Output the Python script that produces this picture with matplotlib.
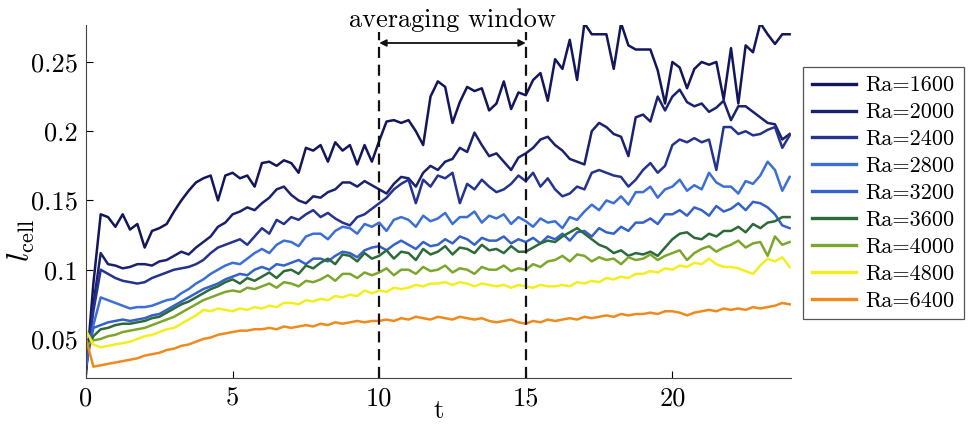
import numpy as np
import matplotlib
matplotlib.use("Agg")
import matplotlib.pyplot as plt

plt.rcParams['font.family'] = ['cmr10', 'DejaVu Serif']
plt.rcParams['mathtext.fontset'] = 'cm'
plt.rcParams['axes.formatter.use_mathtext'] = True

T_STEP = 0.25

labels = ["Ra=1600", "Ra=2000", "Ra=2400", "Ra=2800", "Ra=3200",
          "Ra=3600", "Ra=4000", "Ra=4800", "Ra=6400"]
colors = ["#12165a", "#1a216e", "#24338e", "#3b6fd6", "#3461cc",
          "#2c6a3a", "#7da62c", "#f3ee1e", "#ef8a1c"]

ra1600 = [0.025, 0.090, 0.140, 0.138, 0.131, 0.140, 0.129, 0.133,
          0.116, 0.128, 0.130, 0.133, 0.142, 0.150, 0.157, 0.163,
          0.166, 0.168, 0.150, 0.168, 0.170, 0.166, 0.168, 0.160,
          0.177, 0.178, 0.175, 0.179, 0.177, 0.170, 0.188, 0.186,
          0.190, 0.178, 0.192, 0.186, 0.190, 0.176, 0.190, 0.178,
          0.193, 0.207, 0.208, 0.206, 0.208, 0.200, 0.190, 0.225,
          0.236, 0.232, 0.206, 0.221, 0.232, 0.229, 0.231, 0.215,
          0.220, 0.236, 0.216, 0.228, 0.226, 0.237, 0.242, 0.222,
          0.252, 0.245, 0.266, 0.237, 0.278, 0.270, 0.270, 0.270,
          0.245, 0.278, 0.262, 0.259, 0.259, 0.259, 0.244, 0.220,
          0.250, 0.246, 0.231, 0.245, 0.250, 0.248, 0.250, 0.223,
          0.260, 0.220, 0.262, 0.257, 0.278, 0.270, 0.263, 0.270,
          0.270]
ra2000 = [0.028, 0.075, 0.112, 0.104, 0.103, 0.101, 0.102, 0.104,
          0.104, 0.103, 0.106, 0.107, 0.110, 0.113, 0.111, 0.116,
          0.120, 0.124, 0.131, 0.134, 0.140, 0.142, 0.145, 0.143,
          0.148, 0.152, 0.158, 0.160, 0.154, 0.150, 0.148, 0.153,
          0.152, 0.156, 0.158, 0.163, 0.163, 0.160, 0.164, 0.161,
          0.158, 0.155, 0.162, 0.167, 0.166, 0.160, 0.170, 0.175,
          0.172, 0.178, 0.180, 0.188, 0.185, 0.199, 0.190, 0.182,
          0.184, 0.178, 0.172, 0.181, 0.184, 0.188, 0.194, 0.196,
          0.190, 0.186, 0.180, 0.178, 0.176, 0.200, 0.206, 0.203,
          0.198, 0.196, 0.182, 0.210, 0.212, 0.207, 0.225, 0.215,
          0.225, 0.230, 0.221, 0.218, 0.220, 0.214, 0.217, 0.222,
          0.208, 0.218, 0.218, 0.214, 0.210, 0.206, 0.205, 0.194,
          0.198]
ra2400 = [0.030, 0.070, 0.100, 0.097, 0.094, 0.092, 0.091, 0.090,
          0.091, 0.094, 0.096, 0.098, 0.100, 0.101, 0.102, 0.104,
          0.107, 0.112, 0.116, 0.118, 0.120, 0.122, 0.118, 0.124,
          0.130, 0.126, 0.136, 0.133, 0.138, 0.136, 0.140, 0.143,
          0.138, 0.141, 0.137, 0.134, 0.132, 0.138, 0.140, 0.144,
          0.148, 0.152, 0.158, 0.162, 0.165, 0.148, 0.165, 0.160,
          0.168, 0.166, 0.170, 0.148, 0.162, 0.158, 0.165, 0.160,
          0.156, 0.158, 0.162, 0.168, 0.164, 0.170, 0.160, 0.166,
          0.158, 0.153, 0.155, 0.160, 0.158, 0.170, 0.172, 0.170,
          0.168, 0.167, 0.160, 0.165, 0.172, 0.177, 0.170, 0.175,
          0.190, 0.194, 0.192, 0.195, 0.192, 0.194, 0.172, 0.203,
          0.203, 0.198, 0.200, 0.197, 0.198, 0.201, 0.203, 0.188,
          0.197]
ra2800 = [0.030, 0.060, 0.080, 0.078, 0.076, 0.074, 0.072, 0.073,
          0.073, 0.074, 0.076, 0.078, 0.079, 0.083, 0.086, 0.090,
          0.093, 0.097, 0.100, 0.103, 0.105, 0.104, 0.108, 0.112,
          0.115, 0.112, 0.118, 0.121, 0.120, 0.117, 0.124, 0.126,
          0.126, 0.122, 0.128, 0.131, 0.130, 0.126, 0.133, 0.131,
          0.134, 0.128, 0.136, 0.138, 0.136, 0.131, 0.139, 0.135,
          0.137, 0.141, 0.133, 0.138, 0.138, 0.142, 0.134, 0.139,
          0.137, 0.140, 0.133, 0.138, 0.135, 0.131, 0.137, 0.134,
          0.135, 0.130, 0.138, 0.136, 0.142, 0.147, 0.143, 0.150,
          0.148, 0.153, 0.147, 0.156, 0.156, 0.160, 0.152, 0.158,
          0.160, 0.165, 0.157, 0.161, 0.158, 0.170, 0.163, 0.160,
          0.160, 0.155, 0.164, 0.162, 0.168, 0.178, 0.172, 0.157,
          0.167]
ra3200 = [0.035, 0.058, 0.060, 0.062, 0.063, 0.064, 0.063, 0.064,
          0.065, 0.067, 0.068, 0.071, 0.074, 0.077, 0.080, 0.083,
          0.086, 0.088, 0.090, 0.093, 0.095, 0.097, 0.096, 0.100,
          0.102, 0.100, 0.104, 0.103, 0.105, 0.107, 0.104, 0.108,
          0.108, 0.106, 0.110, 0.113, 0.112, 0.109, 0.114, 0.116,
          0.117, 0.114, 0.118, 0.121, 0.118, 0.115, 0.120, 0.117,
          0.118, 0.122, 0.119, 0.124, 0.122, 0.118, 0.123, 0.121,
          0.121, 0.124, 0.119, 0.122, 0.120, 0.123, 0.119, 0.124,
          0.122, 0.126, 0.121, 0.127, 0.128, 0.124, 0.130, 0.127,
          0.126, 0.131, 0.128, 0.134, 0.134, 0.137, 0.133, 0.140,
          0.140, 0.143, 0.139, 0.145, 0.143, 0.139, 0.146, 0.142,
          0.144, 0.148, 0.143, 0.149, 0.148, 0.145, 0.140, 0.132,
          0.130]
ra3600 = [0.040, 0.052, 0.057, 0.058, 0.060, 0.061, 0.061, 0.062,
          0.063, 0.065, 0.066, 0.069, 0.072, 0.075, 0.077, 0.080,
          0.083, 0.086, 0.088, 0.091, 0.093, 0.090, 0.094, 0.092,
          0.095, 0.098, 0.094, 0.099, 0.100, 0.097, 0.103, 0.101,
          0.105, 0.108, 0.104, 0.111, 0.110, 0.106, 0.112, 0.108,
          0.110, 0.114, 0.108, 0.113, 0.112, 0.107, 0.115, 0.111,
          0.113, 0.117, 0.111, 0.116, 0.115, 0.112, 0.118, 0.114,
          0.115, 0.112, 0.117, 0.113, 0.113, 0.116, 0.119, 0.121,
          0.120, 0.124, 0.127, 0.130, 0.126, 0.122, 0.118, 0.116,
          0.112, 0.114, 0.110, 0.112, 0.111, 0.113, 0.110, 0.116,
          0.122, 0.126, 0.127, 0.123, 0.122, 0.126, 0.124, 0.128,
          0.128, 0.131, 0.127, 0.133, 0.130, 0.134, 0.135, 0.138,
          0.138]
ra4000 = [0.045, 0.049, 0.050, 0.052, 0.053, 0.055, 0.056, 0.057,
          0.058, 0.060, 0.062, 0.064, 0.066, 0.069, 0.072, 0.075,
          0.078, 0.080, 0.082, 0.084, 0.085, 0.084, 0.087, 0.086,
          0.088, 0.090, 0.087, 0.091, 0.090, 0.088, 0.092, 0.091,
          0.093, 0.096, 0.092, 0.097, 0.097, 0.094, 0.098, 0.096,
          0.098, 0.101, 0.096, 0.100, 0.100, 0.097, 0.102, 0.099,
          0.100, 0.103, 0.098, 0.101, 0.100, 0.097, 0.102, 0.100,
          0.100, 0.103, 0.099, 0.101, 0.100, 0.104, 0.102, 0.106,
          0.107, 0.110, 0.106, 0.111, 0.110, 0.106, 0.109, 0.107,
          0.108, 0.104, 0.109, 0.107, 0.108, 0.111, 0.107, 0.110,
          0.112, 0.114, 0.107, 0.112, 0.115, 0.117, 0.113, 0.116,
          0.118, 0.121, 0.116, 0.119, 0.120, 0.110, 0.124, 0.118,
          0.120]
ra4800 = [0.056, 0.046, 0.044, 0.045, 0.046, 0.047, 0.048, 0.050,
          0.052, 0.053, 0.055, 0.057, 0.058, 0.061, 0.064, 0.067,
          0.071, 0.070, 0.072, 0.071, 0.070, 0.072, 0.071, 0.073,
          0.072, 0.074, 0.073, 0.076, 0.076, 0.075, 0.078, 0.077,
          0.079, 0.078, 0.081, 0.080, 0.082, 0.081, 0.085, 0.083,
          0.085, 0.084, 0.087, 0.086, 0.087, 0.089, 0.088, 0.090,
          0.090, 0.091, 0.089, 0.091, 0.090, 0.088, 0.090, 0.089,
          0.088, 0.089, 0.087, 0.089, 0.088, 0.087, 0.089, 0.088,
          0.088, 0.089, 0.088, 0.091, 0.090, 0.092, 0.091, 0.094,
          0.093, 0.095, 0.094, 0.097, 0.097, 0.099, 0.098, 0.101,
          0.100, 0.103, 0.102, 0.105, 0.104, 0.108, 0.104, 0.102,
          0.102, 0.101, 0.099, 0.097, 0.103, 0.108, 0.106, 0.109,
          0.102]
ra6400 = [0.050, 0.030, 0.031, 0.032, 0.033, 0.034, 0.035, 0.036,
          0.038, 0.039, 0.040, 0.042, 0.043, 0.045, 0.046, 0.048,
          0.050, 0.051, 0.053, 0.054, 0.055, 0.056, 0.056, 0.057,
          0.057, 0.058, 0.057, 0.059, 0.058, 0.059, 0.060, 0.059,
          0.061, 0.060, 0.062, 0.061, 0.062, 0.063, 0.062, 0.063,
          0.063, 0.064, 0.063, 0.065, 0.064, 0.066, 0.065, 0.064,
          0.066, 0.065, 0.064, 0.066, 0.065, 0.064, 0.065, 0.063,
          0.062, 0.063, 0.064, 0.062, 0.061, 0.063, 0.062, 0.064,
          0.063, 0.064, 0.065, 0.064, 0.066, 0.065, 0.066, 0.067,
          0.066, 0.068, 0.067, 0.068, 0.068, 0.069, 0.068, 0.070,
          0.070, 0.069, 0.067, 0.069, 0.070, 0.071, 0.070, 0.072,
          0.071, 0.072, 0.071, 0.073, 0.072, 0.073, 0.074, 0.076,
          0.075]

series = [ra1600, ra2000, ra2400, ra2800, ra3200, ra3600, ra4000, ra4800, ra6400]

xticks = [0, 5, 10, 15, 20]
yticks = [0.05, 0.1, 0.15, 0.2, 0.25]
ytick_labels = ["0.05", "0.1", "0.15", "0.2", "0.25"]
window = [10, 15]

fig = plt.figure(figsize=(9.69, 4.28), dpi=100)
ax = fig.add_axes([0.0888, 0.1168, 0.7276, 0.8248])

for vals, lab, col in zip(series, labels, colors):
    t = np.arange(len(vals)) * T_STEP
    ax.plot(t, vals, color=col, lw=1.8, label=lab)

ax.set_xlim(0, 24.05)
ax.set_ylim(0.0218, 0.2767)

ax.set_xticks(xticks)
ax.set_xticklabels([str(v) for v in xticks])
ax.set_yticks(yticks)
ax.set_yticklabels(ytick_labels)
ax.tick_params(direction='in', labelsize=19, length=5, width=0.8, pad=6)
for s in ['top', 'right']:
    ax.spines[s].set_visible(False)
for s in ['left', 'bottom']:
    ax.spines[s].set_linewidth(0.8)
    ax.spines[s].set_color('#444444')

ax.set_xlabel('t', fontsize=19)
ax.xaxis.set_label_coords(0.5, -0.06)
ax.set_ylabel(r'$l_{\rm cell}$', fontsize=23)
ax.yaxis.set_label_coords(-0.07, 0.39)

for xv in window:
    ax.plot([xv, xv], [0.0218, 0.2717], ls=(0, (5, 3)), color='#111111', lw=1.6, clip_on=False)
ax.annotate('', xy=(window[0], 0.2637), xytext=(window[1], 0.2637),
            arrowprops=dict(arrowstyle='<|-|>', color='#111111', lw=1.3,
                            mutation_scale=10, shrinkA=0, shrinkB=0),
            annotation_clip=False)
ax.text(np.mean(window), 0.2756, 'averaging window', ha='center', va='baseline',
        fontsize=19, clip_on=False)

leg = fig.legend(loc='upper left', bbox_to_anchor=(0.829, 0.8435), fontsize=16,
                 frameon=True, fancybox=False, edgecolor='#555555', framealpha=1,
                 handlelength=1.95, labelspacing=0.33, borderpad=0.4, handletextpad=0.45,
                 borderaxespad=0)
leg.get_frame().set_linewidth(0.9)
for h in leg.get_lines():
    h.set_linewidth(2.4)

fig.savefig('out.png', dpi=100)
